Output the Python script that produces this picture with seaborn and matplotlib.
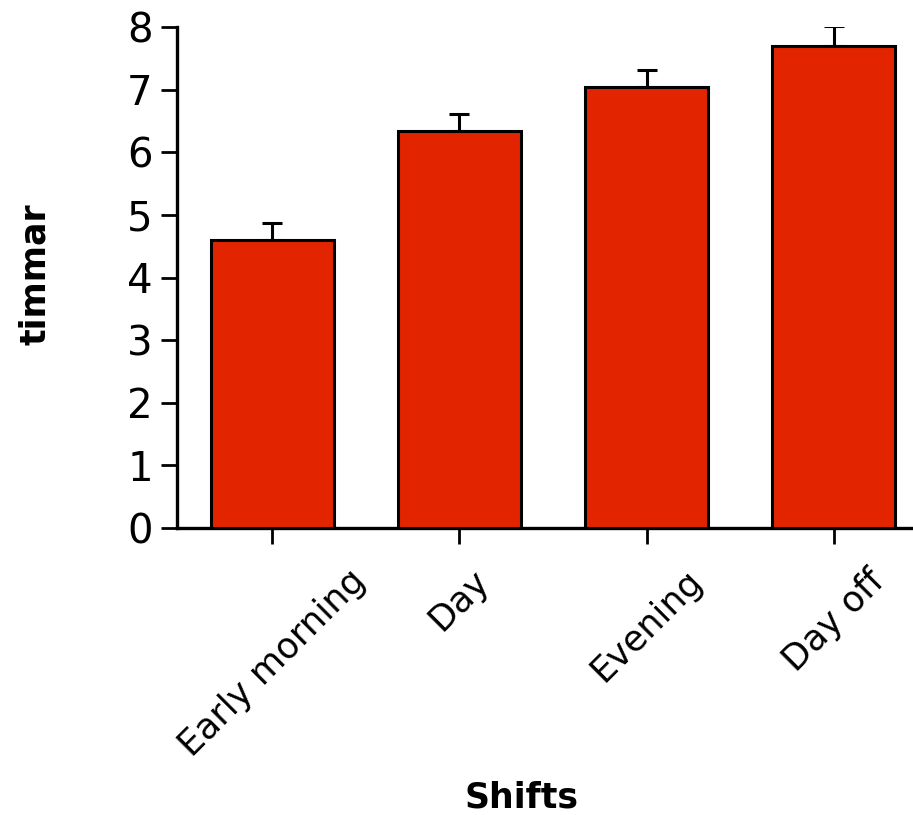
import matplotlib
matplotlib.use("Agg")
import matplotlib.pyplot as plt
import seaborn as sns
import pandas as pd

# Mean sleep hours per shift type with upper standard error
shifts = ["Early morning", "Day", "Evening", "Day off"]
hours = [4.60, 6.34, 7.04, 7.69]
sem = [0.27, 0.27, 0.28, 0.33]
y_ticks = [0, 1, 2, 3, 4, 5, 6, 7, 8]

df = pd.DataFrame({"Shifts": shifts, "timmar": hours})

sns.set_theme(style="ticks")
plt.rcParams["font.family"] = ["DejaVu Sans"]
plt.rcParams["text.color"] = "black"
plt.rcParams["axes.labelcolor"] = "black"

fig = plt.figure(figsize=(9.13, 8.15), dpi=100)
ax = fig.add_axes([177 / 913, 287 / 815, 752 / 913, 501 / 815])

ax.errorbar(range(len(shifts)), hours, yerr=[[0] * len(sem), sem],
            fmt="none", ecolor="black", elinewidth=2.2, capsize=7.2,
            capthick=2.2, zorder=1)

bar_color = "#E32400"
sns.barplot(data=df, x="Shifts", y="timmar", color=bar_color, width=0.66,
            edgecolor="black", linewidth=2.2, saturation=1, errorbar=None,
            ax=ax)
for patch in ax.patches:
    patch.set_zorder(3)

ax.set_xlim(-0.51, 3.51)
ax.set_ylim(0, 8)
ax.set_yticks(y_ticks)
ax.set_yticklabels([str(t) for t in y_ticks], fontsize=29)
ax.set_xticks(range(len(shifts)))
ax.set_xticklabels(shifts, rotation=45, ha="center", fontsize=25.5)

sns.despine(ax=ax)
for side in ["left", "bottom"]:
    ax.spines[side].set_linewidth(2.4)
    ax.spines[side].set_color("black")
ax.tick_params(axis="both", length=11.5, width=2.0, color="black",
               direction="out", labelcolor="black")
ax.tick_params(axis="y", pad=6)
ax.tick_params(axis="x", pad=14)

ax.set_xlabel("Shifts", fontsize=25, fontweight="bold", va="center",
              color="black")
ax.set_ylabel("timmar", fontsize=25, fontweight="bold", va="center",
              color="black")
ax.xaxis.set_label_coords((521 - 177) / 752, (528 - 797) / 501)
ax.yaxis.set_label_coords((35 - 177) / 752, (528 - 274) / 501)

fig.savefig("out.png", dpi=100, facecolor="white")
